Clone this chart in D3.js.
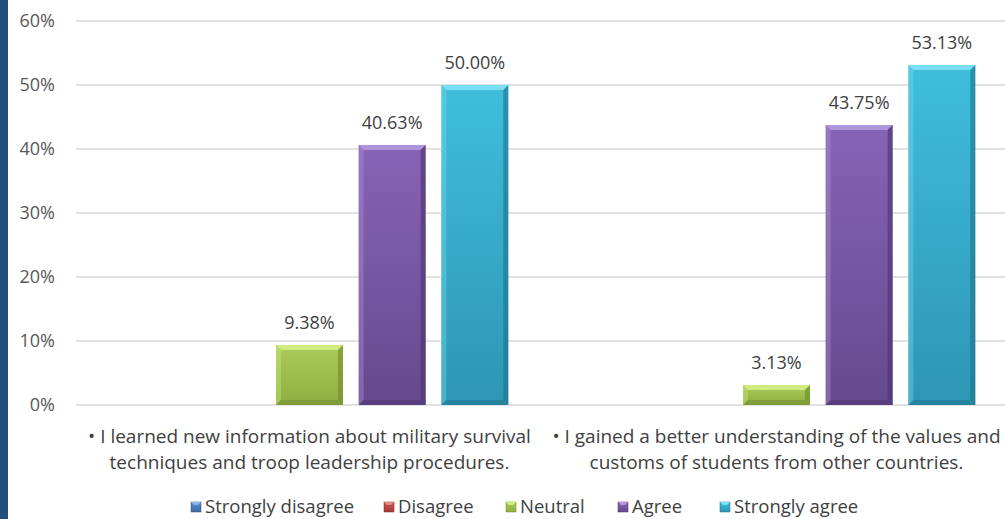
<!DOCTYPE html>
<html>
<head>
<meta charset="utf-8">
<script src="https://cdn.jsdelivr.net/npm/d3@7"></script>
<style>
  body { margin: 0; background: #fff; }
  svg { display: block; }
</style>
</head>
<body>
<div class="first"></div>
<script>
// chart data
const statements = [
  ["• I learned new information about military survival", "techniques and troop leadership procedures."],
  ["• I gained a better understanding of the values and", "customs of students from other countries."]
];
const responses = ["Strongly disagree", "Disagree", "Neutral", "Agree", "Strongly agree"];
const values1 = [0, 0, 9.38, 40.63, 50.00];
const values2 = [0, 0, 3.13, 43.75, 53.13];
const yTicks = [0, 10, 20, 30, 40, 50, 60];

const w = 1005, h = 519;
const m = {top: 21, left: 76, right: -5, bottom: 114};
const font = "'Open Sans', 'Noto Sans', sans-serif";

// colours: [top, bottom, light edge, dark edge]
const colors = {
  "Strongly disagree": ["#5b8fd0", "#3d6aa3", "#8db3e6", "#2c5182"],
  "Disagree": ["#d0524e", "#a63c39", "#ea8a87", "#7f2a28"],
  "Neutral": ["#a9cb58", "#8fae42", "#d4ef86", "#6e8a2c"],
  "Agree": ["#8763b5", "#66498e", "#b49ae0", "#4b3370"],
  "Strongly agree": ["#3fbedc", "#2d96b4", "#80e0f5", "#1f7189"]
};

const rows = [values1, values2];

const svg = d3.select('.first').append('svg')
  .attr('width', w).attr('height', h);

// dark strip on the left
svg.append('rect').attr('x', 0).attr('y', 0)
  .attr('width', 8).attr('height', h).attr('fill', '#23507a');

const x0 = d3.scaleBand()
  .domain(d3.range(statements.length))
  .range([m.left, w - m.right])
  .paddingInner(0).paddingOuter(0);

const x1 = d3.scaleBand()
  .domain(responses)
  .range([0, x0.bandwidth()])
  .paddingInner(0.19).paddingOuter(0.42);

const y = d3.scaleLinear().domain([0, 60]).range([h - m.bottom, m.top]);

const defs = svg.append('defs');
responses.forEach((r, i) => {
  const g = defs.append('linearGradient').attr('id', 'grad' + i)
    .attr('x1', 0).attr('y1', 0).attr('x2', 0).attr('y2', 1);
  g.append('stop').attr('offset', '0%').attr('stop-color', colors[r][0]);
  g.append('stop').attr('offset', '100%').attr('stop-color', colors[r][1]);
});

// gridlines
svg.append('g').selectAll('line').data(yTicks).enter().append('line')
  .attr('x1', m.left).attr('x2', w)
  .attr('y1', d => y(d)).attr('y2', d => y(d))
  .attr('stroke', '#d9d9d9').attr('stroke-width', 1.5);

// y axis labels
svg.append('g').selectAll('text').data(yTicks).enter().append('text')
  .attr('x', 55).attr('y', d => y(d))
  .attr('dy', '0.35em')
  .attr('text-anchor', 'end')
  .attr('font-family', font).attr('font-size', 18)
  .attr('fill', '#595959')
  .text(d => d + '%');

// bars with a bevel look
const bev = 5;
rows.forEach((vals, ci) => {
  const g = svg.append('g').attr('transform', `translate(${x0(ci)},0)`);
  vals.forEach((v, ri) => {
    if (v <= 0) return;
    const r = responses[ri];
    const bx = x1(r), bw = x1.bandwidth();
    const top = y(v), bot = y(0);
    const b = Math.min(bev, (bot - top) / 2);
    g.append('rect').attr('x', bx).attr('y', top)
      .attr('width', bw).attr('height', bot - top)
      .attr('fill', `url(#grad${ri})`);
    // top bevel
    g.append('polygon')
      .attr('points', [[bx, top], [bx + bw, top], [bx + bw - b, top + b], [bx + b, top + b]].join(' '))
      .attr('fill', colors[r][2]).attr('opacity', 0.9);
    // left bevel
    g.append('polygon')
      .attr('points', [[bx, top], [bx + b, top + b], [bx + b, bot - b], [bx, bot]].join(' '))
      .attr('fill', colors[r][2]).attr('opacity', 0.35);
    // right bevel
    g.append('polygon')
      .attr('points', [[bx + bw, top], [bx + bw, bot], [bx + bw - b, bot - b], [bx + bw - b, top + b]].join(' '))
      .attr('fill', colors[r][3]).attr('opacity', 0.6);
    // bottom bevel
    g.append('polygon')
      .attr('points', [[bx, bot], [bx + b, bot - b], [bx + bw - b, bot - b], [bx + bw, bot]].join(' '))
      .attr('fill', colors[r][3]).attr('opacity', 0.5);
    // value label
    g.append('text')
      .attr('x', bx + bw / 2).attr('y', top - 16)
      .attr('text-anchor', 'middle')
      .attr('font-family', font).attr('font-size', 18)
      .attr('fill', '#404040')
      .text(v.toFixed(2) + '%');
  });
});

// category labels
statements.forEach((lines, ci) => {
  const cx = x0(ci) + x0.bandwidth() / 2;
  svg.append('text')
    .attr('x', cx).attr('y', 443)
    .attr('text-anchor', 'middle')
    .attr('font-family', font).attr('font-size', 19)
    .attr('fill', '#404040')
    .text(lines[0]);
  svg.append('text')
    .attr('x', cx).attr('y', 469)
    .attr('text-anchor', 'middle')
    .attr('font-family', font).attr('font-size', 19)
    .attr('fill', '#404040')
    .text(lines[1]);
});

// legend
const legendX = [191, 384, 506, 618, 720];
const legend = svg.append('g');
responses.forEach((r, i) => {
  const lg = legend.append('g').attr('transform', `translate(${legendX[i]},${507})`);
  lg.append('rect').attr('x', 0).attr('y', -5).attr('width', 10).attr('height', 10)
    .attr('fill', `url(#grad${i})`).attr('stroke', colors[r][3]).attr('stroke-width', 0.5);
  lg.append('polygon')
    .attr('points', '0,-5 10,-5 7,-2 3,-2')
    .attr('fill', colors[r][2]);
  lg.append('text')
    .attr('x', 14).attr('y', 0).attr('dy', '0.32em')
    .attr('font-family', font).attr('font-size', 18.5)
    .attr('fill', '#404040')
    .text(r);
});
</script>
</body>
</html>
